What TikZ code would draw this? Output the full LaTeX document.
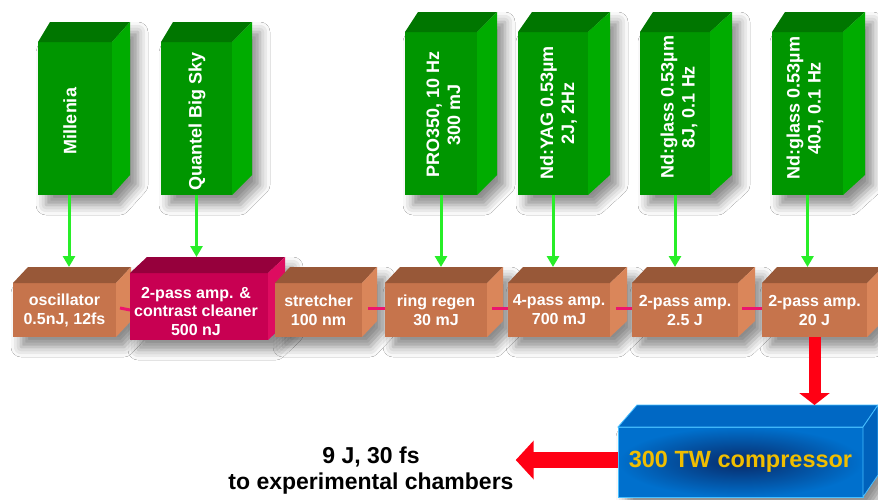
\documentclass[tikz,border=0pt]{standalone}
\usepackage{fontspec}
\setmainfont{Liberation Sans}
\usetikzlibrary{calc,arrows.meta,shadows.blur}
\pgfdeclarelayer{background}
\pgfsetlayers{background,main}
\definecolor{grnF}{RGB}{0,150,0}
\definecolor{grnT}{RGB}{0,118,0}
\definecolor{grnS}{RGB}{0,172,0}
\definecolor{brnF}{RGB}{198,116,76}
\definecolor{brnT}{RGB}{152,88,56}
\definecolor{brnS}{RGB}{218,134,90}
\definecolor{magF}{RGB}{200,0,82}
\definecolor{magT}{RGB}{150,0,60}
\definecolor{magS}{RGB}{222,12,96}
\definecolor{bluOut}{RGB}{0,112,205}
\definecolor{bluIn}{RGB}{8,42,105}
\definecolor{bluT}{RGB}{0,104,196}
\definecolor{bluS}{RGB}{0,98,188}
\definecolor{bluEdge}{RGB}{70,190,255}
\definecolor{arrGreen}{RGB}{40,238,40}
\definecolor{pinkLine}{RGB}{236,20,110}
\definecolor{arrRed}{RGB}{255,0,20}
\definecolor{compText}{RGB}{240,190,0}
\newcommand\faces[5]{%
  \begin{pgfonlayer}{background}
  \path[boxshadow] (#1.south west) -- (#1.north west) -- ++(#3,-#5)
     -- ($(#1.north east)+(#4,-#5)$) -- ($(#1.south east)+(#4,-#5)$)
     -- (#1.south east) -- cycle;
  \end{pgfonlayer}
  \path[#2T] (#1.north west) -- ++(#3,-#5) -- ($(#1.north east)+(#4,-#5)$)
     -- (#1.north east) -- cycle;
  \path[#2S] (#1.north east) -- ++(#4,-#5) -- ($(#1.south east)+(#4,-#5)$)
     -- (#1.south east) -- cycle;
  \coordinate (#1-top) at ($(#1.north)+(0,-#5)$);
}
\begin{document}
\begin{tikzpicture}[x=1pt,y=-1pt,
  boxshadow/.style={blur shadow={shadow xshift=8pt,shadow yshift=-10pt,shadow blur radius=10pt,shadow opacity=45}},
  gfront/.style={fill=grnF,inner sep=0pt,outer sep=0pt},
  gT/.style={fill=grnT}, gS/.style={fill=grnS},
  bT/.style={fill=brnT}, bS/.style={fill=brnS},
  mT/.style={fill=magT}, mS/.style={fill=magS},
  cT/.style={fill=bluT,draw=bluEdge,line width=0.8pt},
  cS/.style={fill=bluS,draw=bluEdge,line width=0.8pt},
  gtext/.style={rotate=90,text=white,align=center,inner sep=1pt,
    font=\fontsize{18}{21}\selectfont\bfseries},
  bfront/.style={fill=brnF,inner sep=0pt,outer sep=0pt,minimum height=54pt,
    text=white,align=center,font=\fontsize{16}{19}\selectfont\bfseries},
  mfront/.style={bfront,fill=magF,minimum height=67pt},
  mtext/.style={text=white,align=center,inner sep=0pt,
    font=\fontsize{16}{18.5}\selectfont\bfseries},
  cfront/.style={shade,shading=radial,inner color=bluIn,outer color=bluOut,
    draw=bluEdge,line width=0.8pt,inner sep=0pt,outer sep=0pt,
    minimum width=245pt,minimum height=70pt,text=compText,
    font=\fontsize{23.5}{26}\selectfont\bfseries},
  outtext/.style={align=center,inner sep=2pt,text=black,
    font=\fontsize{23}{26}\selectfont\bfseries},
  garrow/.style={draw=arrGreen,line width=3pt,-{Triangle[width=12pt,length=11pt]}},
  pinkconn/.style={draw=pinkLine,line width=3pt},
  rdown/.style={draw=arrRed,line width=12pt,-{Triangle[width=30pt,length=12pt]}},
  rleft/.style={draw=arrRed,line width=16pt,-{Triangle[width=38pt,length=18pt]}}]
\begin{pgfonlayer}{background}
\fill[white] (0,0) rectangle (878,499);
\end{pgfonlayer}
\useasboundingbox (0,0) rectangle (878,499);

% green pump lasers
\node[gfront,minimum width=74pt,minimum height=153pt] (mill) at (75,118.5) {};
\faces{mill}{g}{12}{18}{20}
\node[gtext] (millt) at (70,121) {Millenia};

\node[gfront,minimum width=71pt,minimum height=153pt] (quan) at (196.5,118.5) {};
\faces{quan}{g}{12}{20}{20}
\node[gtext] (quant) at (197,121) {Quantel Big Sky};

\node[gfront,minimum width=72pt,minimum height=163pt] (pro) at (441,113.5) {};
\faces{pro}{g}{13}{20}{20}
\node[gtext] (prot) at (443.5,114.5) {PRO350, 10 Hz\\300 mJ};

\node[gfront,minimum width=70pt,minimum height=163pt] (yag) at (553,113.5) {};
\faces{yag}{g}{14}{22}{20}
\node[gtext] (yagt) at (558.5,113) {Nd:YAG 0.53µm\\2J, 2Hz};

\node[gfront,minimum width=70pt,minimum height=163pt] (glA) at (675,113.5) {};
\faces{glA}{g}{13}{22}{20}
\node[gtext] (glAt) at (679,107) {Nd:glass 0.53µm\\8J, 0.1 Hz};

\node[gfront,minimum width=71pt,minimum height=163pt] (glB) at (807.5,113.5) {};
\faces{glB}{g}{13}{22}{20}
\node[gtext] (glBt) at (805,108) {Nd:glass 0.53µm\\40J, 0.1 Hz};

% amplifier chain
\node[bfront,minimum width=103pt] (osc) at (64.5,310) {oscillator\\0.5nJ, 12fs};
\faces{osc}{b}{15}{15}{16}
\node[mfront,minimum width=138pt] (mag) at (199,306.5) {};
\faces{mag}{m}{17}{17}{16}
\node[mtext] (magt) at (196,311) {2-pass amp. \&\\contrast cleaner\\500 nJ};
\node[bfront,minimum width=87pt] (str) at (318.5,310) {stretcher\\100 nm};
\faces{str}{b}{15}{15}{16}
\node[bfront,minimum width=102pt] (ring) at (436,310) {ring regen\\30 mJ};
\faces{ring}{b}{15}{16}{16}
\node[bfront,minimum width=102pt] (four) at (559,310) {4-pass amp.\\700 mJ};
\faces{four}{b}{15}{17}{16}
\node[bfront,minimum width=106pt] (ampA) at (685,310) {2-pass amp.\\2.5 J};
\faces{ampA}{b}{15}{17}{16}
\node[bfront,minimum width=105pt] (ampB) at (814.5,310) {2-pass amp.\\20 J};
\faces{ampB}{b}{15}{16}{16}

% compressor
\node[cfront] (comp) at (740.5,462) {300 TW compressor};
\faces{comp}{c}{19}{15}{22}

\node[outtext] (outt) at (371,471) {9 J, 30 fs\\to experimental chambers};

% connectors
\draw[pinkconn] ($(osc.east)+(4,-2)$) -- (osc.east -| mag.west);
\draw[pinkconn] ($(str.east)+(6,-2)$) -- ($(ring.west)+(0,-2)$);
\draw[pinkconn] ($(ring.east)+(5,-2)$) -- ($(four.west)+(0,-2)$);
\draw[pinkconn] ($(four.east)+(6,-2)$) -- ($(ampA.west)+(0,-2)$);
\draw[pinkconn] ($(ampA.east)+(4,-2)$) -- ($(ampB.west)+(0,-2)$);

\draw[garrow] ($(mill.south)+(-6,0)$) -- ($(mill.south |- osc-top)+(-6,0)$);
\draw[garrow] (quan.south) -- (quan.south |- mag-top);
\draw[garrow] (pro.south) -- (pro.south |- ring-top);
\draw[garrow] (yag.south) -- (yag.south |- four-top);
\draw[garrow] (glA.south) -- (glA.south |- ampA-top);
\draw[garrow] (glB.south) -- (glB.south |- ampB-top);

\draw[rdown] (ampB.south) -- (ampB.south |- comp-top);
\draw[rleft] ($(comp.west)+(0,-2)$) -- ($(comp.west -| outt.east)+(0,-2)$);
\end{tikzpicture}
\end{document}
